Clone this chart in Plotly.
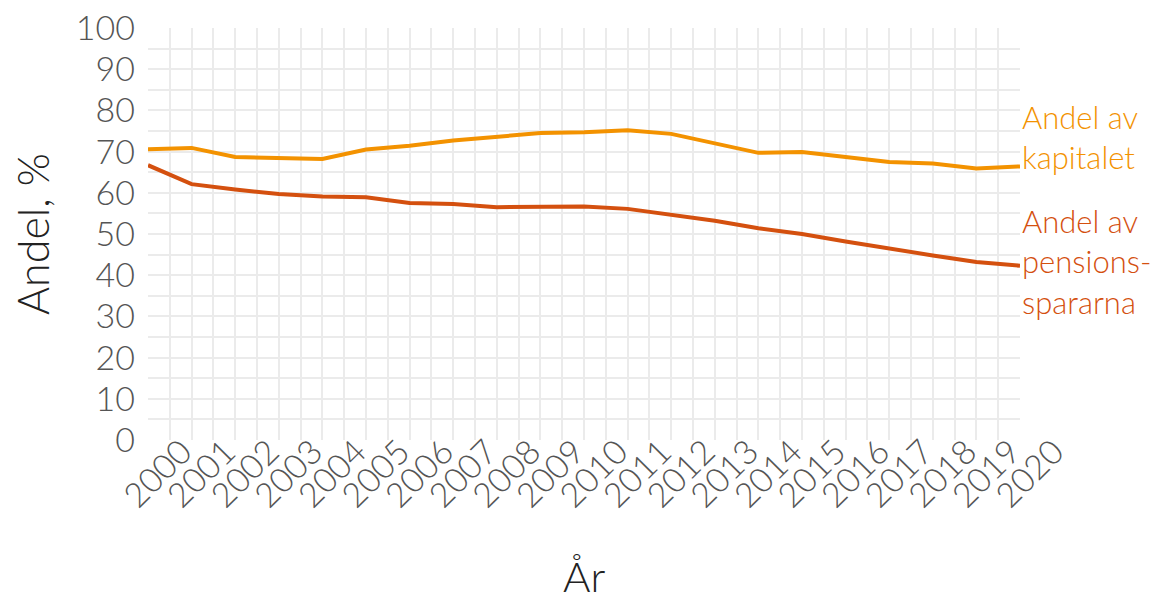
import plotly.graph_objects as go

years = list(range(2000, 2021))

# Share of the capital (%)
andel_kapital = [70.6, 70.9, 68.7, 68.5, 68.2, 70.5, 71.4, 72.7, 73.7, 74.5, 74.7,
                 75.2, 74.3, 72.1, 69.7, 69.9, 68.7, 67.5, 67.1, 65.9, 66.4]

# Share of the pension savers (%)
andel_sparare = [66.7, 62.1, 60.8, 59.7, 59.1, 58.9, 57.5, 57.3, 56.5, 56.5, 56.7,
                 56.1, 54.7, 53.2, 51.4, 50.0, 48.2, 46.4, 44.8, 43.2, 42.3]

label_kapital = "Andel av<br>kapitalet"
label_sparare = "Andel av<br>pensions-<br>spararna"
chart_title = "Kapital och pensionssparare"
x_title = "År"
y_title = "Andel, %"

ORANGE = "#F39200"
RED = "#D4500F"
FONT = "Lato"
GRID = "#ebebeb"
TICK = "#555555"
TITLE = "#222222"

fig = go.Figure()
fig.add_trace(go.Scatter(x=years, y=andel_kapital, mode="lines",
                         line=dict(color=ORANGE, width=4), showlegend=False,
                         name="Andel av kapitalet"))
fig.add_trace(go.Scatter(x=years, y=andel_sparare, mode="lines",
                         line=dict(color=RED, width=4), showlegend=False,
                         name="Andel av pensionsspararna"))

# End-of-line labels
fig.add_annotation(x=1, xref="paper", y=72, yref="y", text=label_kapital,
                   showarrow=False, xanchor="left", yanchor="middle", align="left",
                   yshift=6,
                   font=dict(family=FONT, size=31, color=ORANGE, weight=300))
fig.add_annotation(x=1, xref="paper", y=andel_sparare[-1], yref="y", text=label_sparare,
                   showarrow=False, xanchor="left", yanchor="middle", align="left",
                   yshift=4,
                   font=dict(family=FONT, size=31, color=RED, weight=300))

# Title sitting mostly above the top edge of the page
fig.add_annotation(x=-148 / 872, xref="paper", y=1 + 45 / 412, yref="paper",
                   text=chart_title, showarrow=False, xanchor="left", yanchor="middle",
                   font=dict(family=FONT, size=30, color=TITLE))

# x-axis title below the rotated year labels
fig.add_annotation(x=0.5, xref="paper", y=-136 / 412, yref="paper",
                   text=x_title, showarrow=False, xanchor="center", yanchor="middle",
                   font=dict(family=FONT, size=42, color=TITLE, weight=300))

fig.update_layout(
    width=1164, height=601,
    margin=dict(l=148, r=144, t=28, b=161),
    paper_bgcolor="white", plot_bgcolor="white",
    font=dict(family=FONT, color=TICK),
)

fig.update_xaxes(
    range=[2000, 2020], tickmode="linear", tick0=2000, dtick=1,
    tickangle=-45, tickfont=dict(family=FONT, size=34, color=TICK, weight=300),
    ticklabelshift=34, ticklabelstandoff=-16, automargin=False,
    showgrid=True, gridcolor=GRID, gridwidth=1.5, zeroline=False,
    showline=False, ticks="",
    minor=dict(dtick=0.5, showgrid=True, gridcolor=GRID, gridwidth=1.5),
)
fig.update_yaxes(
    range=[0, 100], tickmode="linear", tick0=0, dtick=10,
    tickfont=dict(family=FONT, size=34, color=TICK, weight=300),
    ticklabelstandoff=12, automargin=False,
    showgrid=True, gridcolor=GRID, gridwidth=1.5, zeroline=False,
    showline=False, ticks="",
    minor=dict(dtick=5, showgrid=True, gridcolor=GRID, gridwidth=1.5),
    title=dict(text=y_title, font=dict(family=FONT, size=43, color=TITLE, weight=300),
               standoff=12),
)

fig.write_html("out.html")
